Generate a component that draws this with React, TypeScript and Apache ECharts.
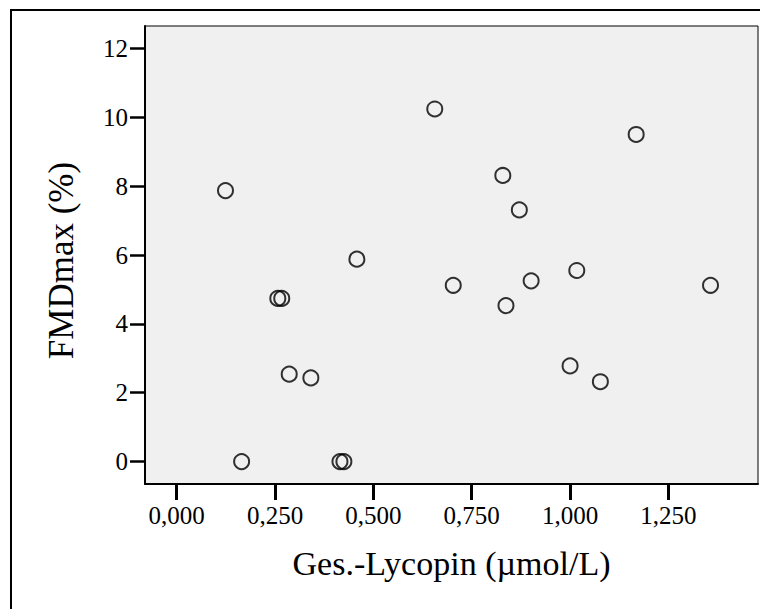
import React, { useEffect, useRef } from "react";
import * as echarts from "echarts";

const lycopin = [0.124, 0.165, 0.257, 0.267, 0.286, 0.341, 0.415, 0.425, 0.458, 0.656, 0.703, 0.829, 0.837, 0.871, 0.901, 1.0, 1.017, 1.077, 1.168, 1.357];
const fmdmax = [7.87, 0, 4.74, 4.74, 2.54, 2.43, 0, 0, 5.88, 10.24, 5.12, 8.31, 4.53, 7.31, 5.25, 2.78, 5.55, 2.32, 9.5, 5.12];
const xTicks = [0, 0.25, 0.5, 0.75, 1.0, 1.25];
const yTicks = [0, 2, 4, 6, 8, 10, 12];
const xTitle = "Ges.-Lycopin (µmol/L)";
const yTitle = "FMDmax (%)";

const FONT = "'Liberation Serif', 'DejaVu Serif', serif";

export default function App() {
  const ref = useRef<HTMLDivElement>(null);
  useEffect(() => {
    if (!ref.current) return;
    const chart = echarts.init(ref.current, undefined, { renderer: "svg" });
    chart.setOption({
      animation: false,
      backgroundColor: "#fff",
      graphic: [
        {
          type: "rect",
          shape: { x: 11, y: 10, width: 900, height: 800 },
          style: { fill: "none", stroke: "#000", lineWidth: 2 },
          z: -1,
        },
      ],
      grid: {
        left: 145,
        top: 26,
        right: 2,
        bottom: 125,
        show: true,
        backgroundColor: "#f0f0f0",
        borderColor: "#000",
        borderWidth: 1,
      },
      xAxis: {
        type: "value",
        min: -0.0806,
        max: 1.4777,
        name: xTitle,
        nameLocation: "middle",
        nameGap: 62,
        nameTextStyle: { fontFamily: FONT, fontSize: 34, color: "#000" },
        axisLine: { show: true, onZero: false, lineStyle: { color: "#000", width: 2 } },
        axisTick: {
          show: true,
          length: 16,
          customValues: xTicks,
          lineStyle: { color: "#000", width: 3 },
        },
        axisLabel: {
          customValues: xTicks,
          margin: 19,
          fontFamily: FONT,
          fontSize: 25,
          color: "#000",
          formatter: (v: number) => v.toFixed(3).replace(".", ","),
        },
        splitLine: { show: false },
      },
      yAxis: {
        type: "value",
        min: -0.65,
        max: 12.65,
        name: yTitle,
        nameLocation: "middle",
        nameGap: 66,
        nameRotate: 90,
        nameTextStyle: { fontFamily: FONT, fontSize: 35, color: "#000", padding: [0, 11, 0, 0] },
        axisLine: { show: true, onZero: false, lineStyle: { color: "#000", width: 2 } },
        axisTick: {
          show: true,
          length: 15,
          customValues: yTicks,
          lineStyle: { color: "#000", width: 2.5 },
        },
        axisLabel: {
          customValues: yTicks,
          margin: 17,
          fontFamily: FONT,
          fontSize: 25,
          color: "#000",
        },
        splitLine: { show: false },
      },
      series: [
        {
          type: "scatter",
          data: lycopin.map((x, i) => [x, fmdmax[i]]),
          symbol: "circle",
          symbolSize: 15,
          itemStyle: { color: "rgba(0,0,0,0)", borderColor: "#000", borderWidth: 2 },
        },
      ],
    });
    return () => chart.dispose();
  }, []);
  return (
    <div
      ref={ref}
      style={{ position: "fixed", left: 0, top: 0, width: 760, height: 609 }}
    />
  );
}
